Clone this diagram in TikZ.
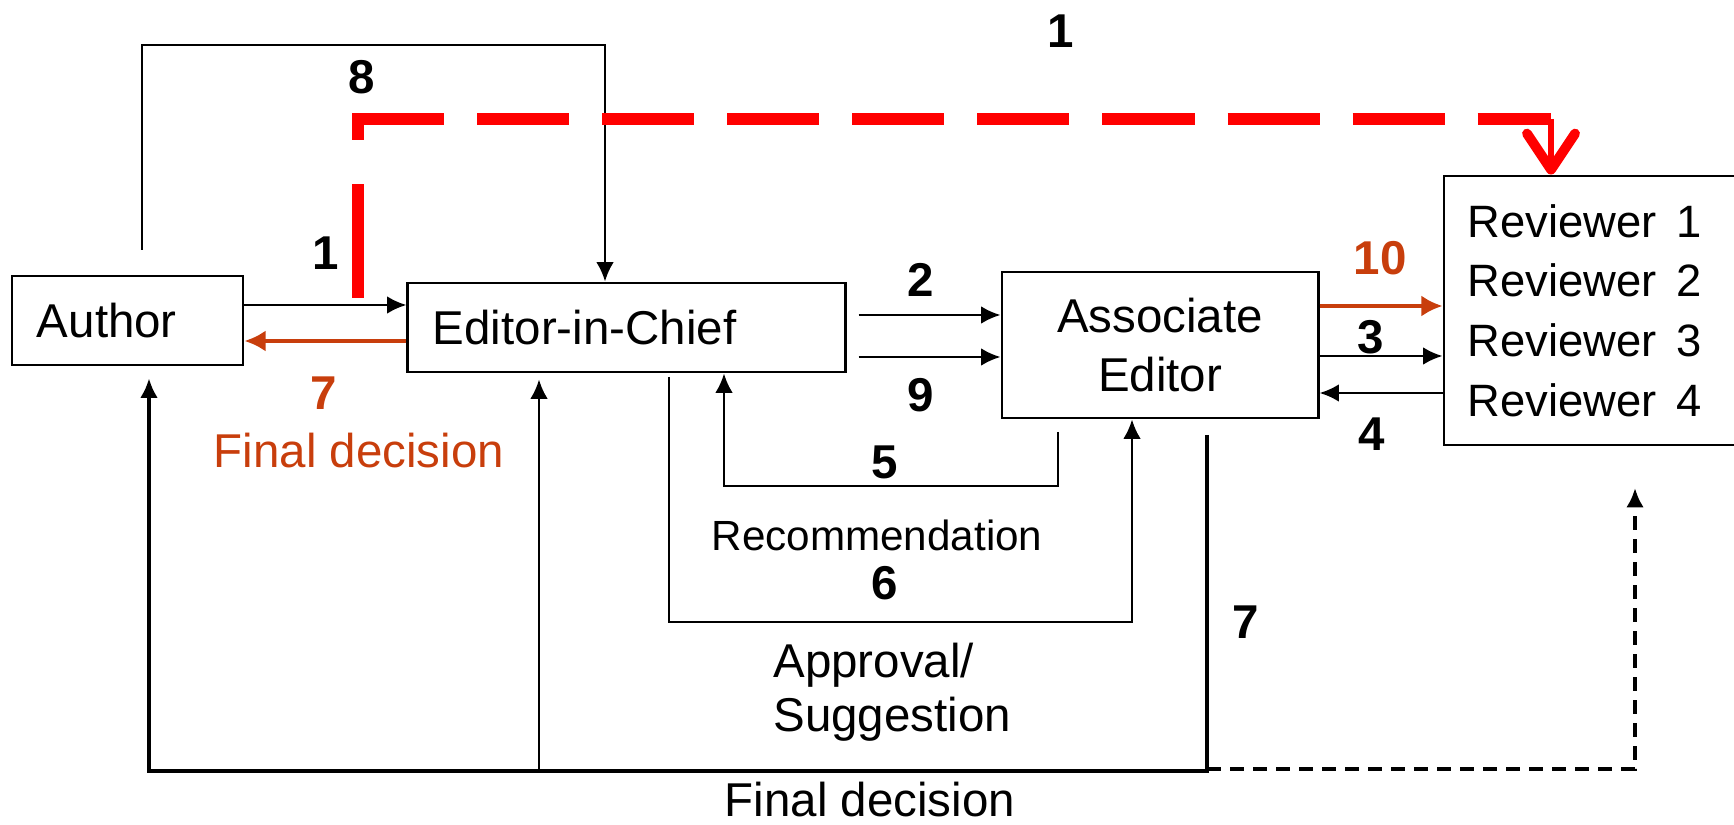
\documentclass[tikz,border=0pt]{standalone}
\usepackage{fontspec}
\setmainfont{Liberation Sans}
\usetikzlibrary{arrows.meta}

\definecolor{decision}{RGB}{200,62,12}
\definecolor{review}{RGB}{255,0,0}

\tikzset{
	box/.style={draw, thick, rectangle, inner xsep=0.25cm, align=left},
	flow/.style={line width=0.75pt, -{Latex[length=5.5pt,width=5pt]}},
	flowhot/.style={decision, line width=1.1pt, -{Latex[length=6pt,width=6pt]}},
	num/.style={font=\fontsize{13.5}{16}\selectfont\bfseries},
	reviewline/.style={review, line width=0.12cm}
}

\begin{document}
\begin{tikzpicture}[x=0.01cm, y=-0.01cm, every node/.style={font=\fontsize{13.5}{17}\selectfont}]
	\useasboundingbox (0,0) rectangle (1734,825);
	\node[box, minimum width=2.31cm, minimum height=0.89cm, text width=1.81cm] (author) at (127.5,320.5) {Author};
	\node[box, minimum width=4.37cm, minimum height=0.89cm, text width=3.87cm] (eic) at (626.5,327.5) {Editor-in-Chief};
	\node[box, align=center, minimum width=3.16cm, minimum height=1.46cm] (ae) at (1160,345) {Associate\\Editor};
	\node[box, inner xsep=0.24cm, minimum width=3.01cm, minimum height=2.69cm, text width=2.53cm,
		font=\fontsize{12.9}{17}\selectfont] (rev) at (1594.5,310.5)
		{Reviewer\hspace{0.42em}1\\Reviewer\hspace{0.42em}2\\Reviewer\hspace{0.42em}3\\Reviewer\hspace{0.42em}4};
%
	\node[num] (l8) at (362,77) {8};
	\node[num] (l1top) at (1061,31) {1};
	\node[num] (l1) at (326,253) {1};
	\node[num, text=decision] (l7a) at (324,393) {7};
	\node[text=decision] (fd1) at (359,451) {Final decision};
	\node[num] (l2) at (921,280) {2};
	\node[num] (l9) at (921,395) {9};
	\node[num, text=decision] (l10) at (1380,258) {10};
	\node[num] (l3) at (1371,337) {3};
	\node[num] (l4) at (1372,434) {4};
	\node[num] (l5) at (885,462) {5};
	\node[font=\fontsize{12}{14}\selectfont] (rec) at (877,535) {Recommendation};
	\node[num] (l6) at (885,583) {6};
	\node[align=left, anchor=west, font=\fontsize{13.5}{15.5}\selectfont] (appr) at (761,692) {Approval/\\Suggestion};
	\node[num] (l7b) at (1246,622) {7};
	\node (fd2) at (870,800) {Final decision};
%
	\coordinate (a8) at (142,250);
	\coordinate (k8) at (605,45);
	\draw[flow] (a8) |- (k8) -- (eic.north -| k8);
	\draw[flow] (author.east |- 0,305) -- (eic.west |- 0,305);
	\draw[flowhot] (eic.west |- 0,341) -- (author.east |- 0,341);
	\draw[flow, shorten <=0.12cm] (eic.east |- 0,315) -- (ae.west |- 0,315);
	\draw[flow, shorten <=0.12cm] (eic.east |- 0,357) -- (ae.west |- 0,357);
	\draw[flowhot] (ae.east |- 0,306) -- (rev.west |- 0,306);
	\draw[flow] (ae.east |- 0,356) -- (rev.west |- 0,356);
	\draw[flow] (rev.west |- 0,393) -- (ae.east |- 0,393);
%
	\coordinate (c5) at (1058,432);
	\coordinate (k5) at (724,486);
	\draw[flow] (c5) |- (k5) -- (eic.south -| k5);
	\coordinate (c6) at (669,377);
	\coordinate (k6) at (1132,622);
	\draw[flow] (c6) |- (k6) -- (ae.south -| k6);
%
	\coordinate (c7) at (1207,435);
	\coordinate (k7) at (149,771);
	\coordinate (j7) at (539,771);
	\coordinate (rv) at (1635,488);
	\draw[flow, line width=0.9pt, shorten >=0.12cm] (c7) |- (k7) -- (author.south -| k7);
	\draw[flow, shorten >=0.06cm] (j7) -- (eic.south -| j7);
	\draw[flow, line width=1.2pt, dash pattern=on 0.14cm off 0.09cm] (c7 |- 0,769) -| (rv);
%
	\coordinate (r1) at (358,298);
	\coordinate (rk) at (358,119);
	\coordinate (rc) at (1551,119);
	\draw[reviewline, dash pattern=on 1.14cm off 0.44cm] (r1) -- (rk);
	\draw[reviewline, dash pattern=on 0.92cm off 0.33cm] ([xshift=-0.06cm]rk) -- (rc);
	\draw[review, line width=1.8pt, -{Straight Barb[length=0.36cm,width=0.48cm,line width=2.8pt,round]}]
		(rc) -- (rev.north -| rc);
\end{tikzpicture}
\end{document}
